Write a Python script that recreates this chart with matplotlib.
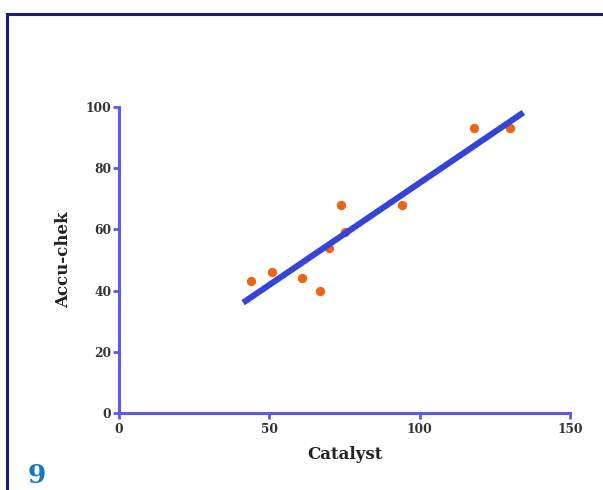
import numpy as np
import matplotlib
matplotlib.use("Agg")
import matplotlib.pyplot as plt
from matplotlib.patches import Rectangle

# Data
catalyst = [44, 51, 61, 67, 70, 74, 75, 94, 118, 130]
accu_chek = [43, 46, 44, 40, 54, 68, 59, 68, 93, 93]
fit_range = [41.3, 134.5]
x_ticks = [0, 50, 100, 150]
y_ticks = [0, 20, 40, 60, 80, 100]

plt.rcParams['font.family'] = ['DejaVu Serif']

fig = plt.figure(figsize=(6.03, 4.90), dpi=100)
fig.patch.set_facecolor('white')
ax = fig.add_axes([119/603, 77/490, 451/603, 306/490])

spine_c = '#5a5aee'
ax.scatter(catalyst, accu_chek, s=45, color='#ec6414', zorder=3, linewidths=0)
slope, intercept = np.polyfit(catalyst, accu_chek, 1)
fx = np.array(fit_range)
ax.plot(fx, slope * fx + intercept, color='#3344d8', lw=4.4, solid_capstyle='butt', zorder=4)

ax.set_xlim(0, 150)
ax.set_ylim(0, 100)
ax.set_xticks(x_ticks)
ax.set_yticks(y_ticks)
for s in ['top', 'right']:
    ax.spines[s].set_visible(False)
for s in ['left', 'bottom']:
    ax.spines[s].set_color(spine_c)
    ax.spines[s].set_linewidth(2.2)
ax.tick_params(axis='both', colors=spine_c, width=2.0, length=4, direction='out',
               labelcolor='#333333', labelsize=8.8)
ax.tick_params(axis='x', pad=3.5)
ax.tick_params(axis='y', pad=1.5)
for lbl in ax.get_xticklabels() + ax.get_yticklabels():
    lbl.set_fontweight('bold')
ax.set_xlabel('Catalyst', fontsize=12, fontweight='bold', color='#222222', labelpad=7)
ax.set_ylabel('Accu-chek', fontsize=12, fontweight='bold', color='#222222', labelpad=10)
ax.patch.set_alpha(0)

fig.patches.append(Rectangle((7/603, -0.05), 1.1, 1 - 14/490 + 0.05,
                             transform=fig.transFigure, fill=False,
                             edgecolor='#1c1c78', lw=2.2, zorder=0))
fig.text(28/603, 1 - 483/490, '9', fontsize=19, fontweight='bold', color='#1a78c2',
         ha='left', va='baseline')

fig.savefig('out.png', dpi=100)
